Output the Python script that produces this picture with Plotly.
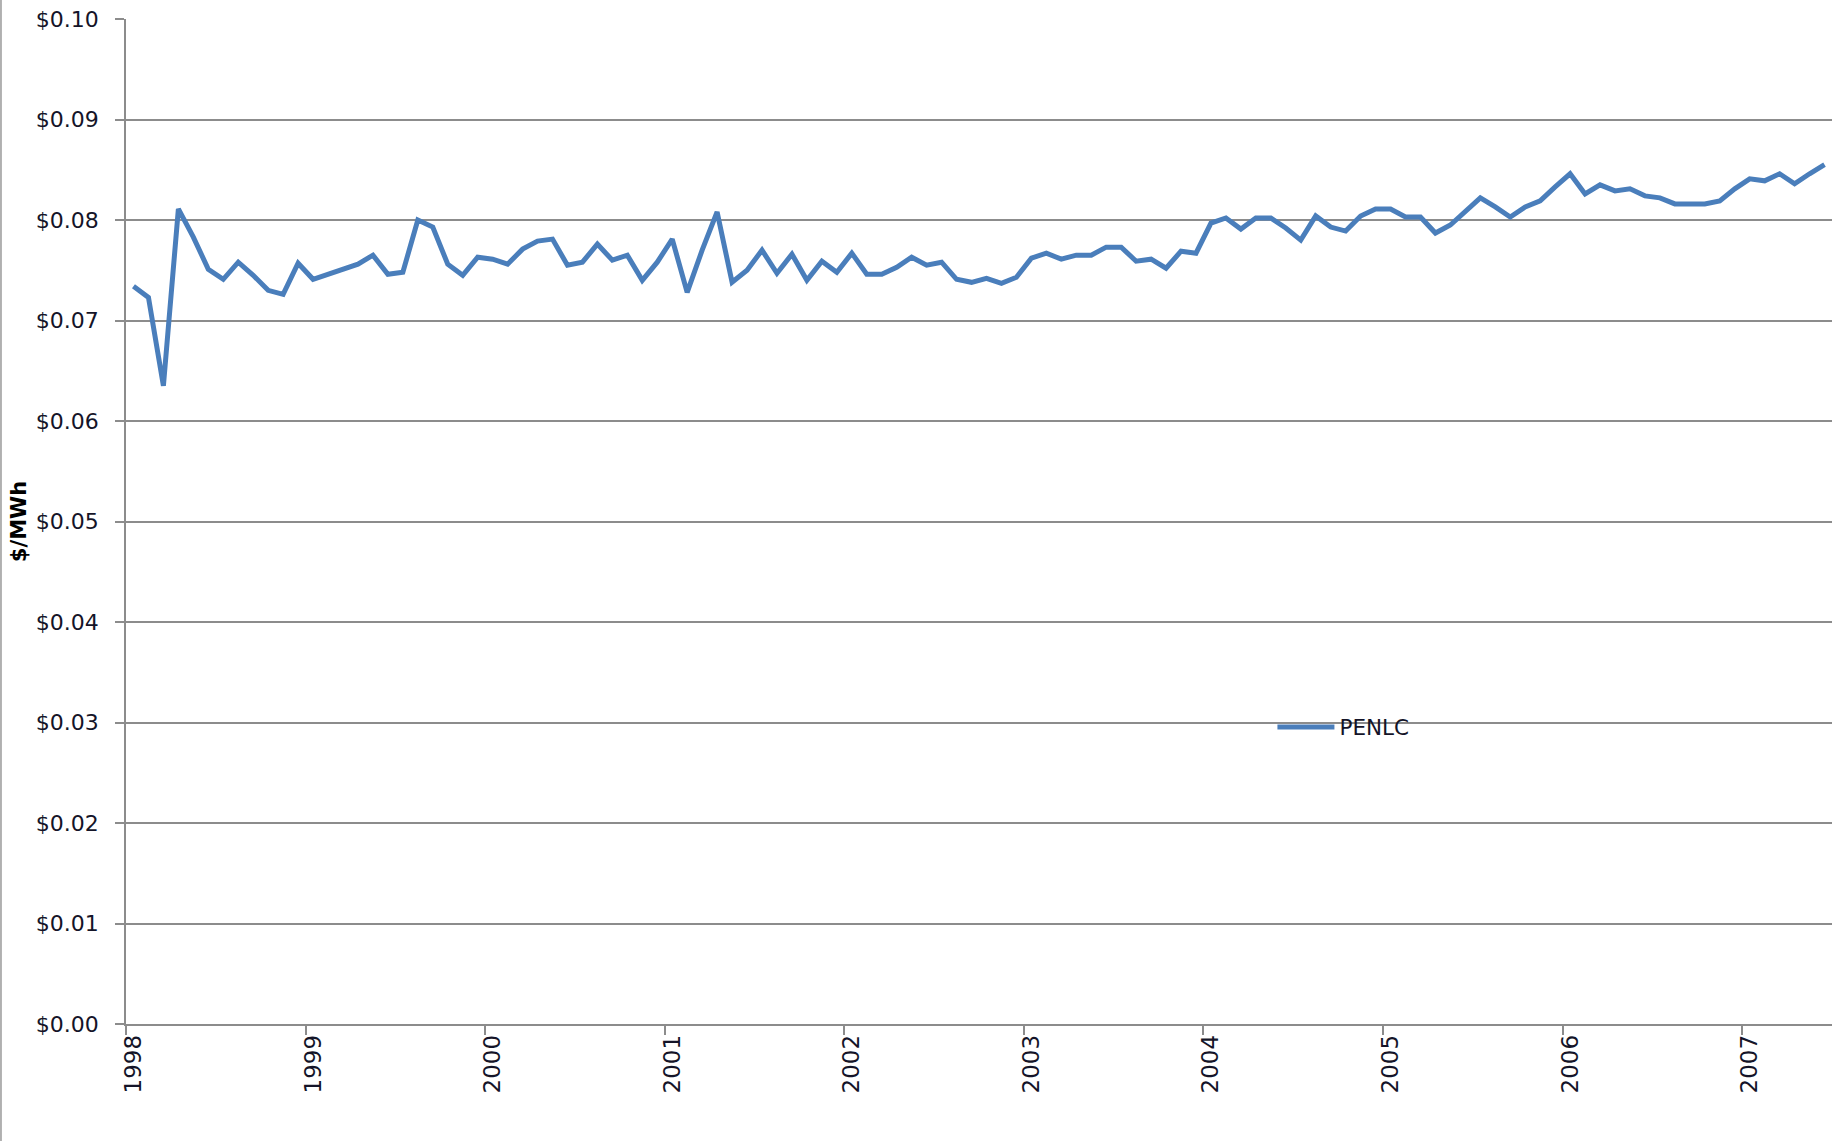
import plotly.graph_objects as go

# Monthly values, Jan 1998 - Jun 2007 ($/MWh as labelled)
values = [
    0.0734, 0.0723, 0.0635, 0.0811, 0.0783, 0.0751, 0.0741, 0.0758, 0.0745, 0.0730, 0.0726, 0.0757,
    0.0741, 0.0746, 0.0751, 0.0756, 0.0765, 0.0746, 0.0748, 0.0800, 0.0793, 0.0756, 0.0745, 0.0763,
    0.0761, 0.0756, 0.0771, 0.0779, 0.0781, 0.0755, 0.0758, 0.0776, 0.0760, 0.0765, 0.0740, 0.0758,
    0.0781, 0.0728, 0.0770, 0.0808, 0.0738, 0.0750, 0.0770, 0.0747, 0.0766, 0.0740, 0.0759, 0.0748,
    0.0767, 0.0746, 0.0746, 0.0753, 0.0763, 0.0755, 0.0758, 0.0741, 0.0738, 0.0742, 0.0737, 0.0743,
    0.0762, 0.0767, 0.0761, 0.0765, 0.0765, 0.0773, 0.0773, 0.0759, 0.0761, 0.0752, 0.0769, 0.0767,
    0.0797, 0.0802, 0.0791, 0.0802, 0.0802, 0.0792, 0.0780, 0.0804, 0.0793, 0.0789, 0.0804, 0.0811,
    0.0811, 0.0803, 0.0803, 0.0787, 0.0795, 0.0809, 0.0822, 0.0813, 0.0803, 0.0813, 0.0819, 0.0833,
    0.0846, 0.0826, 0.0835, 0.0829, 0.0831, 0.0824, 0.0822, 0.0816, 0.0816, 0.0816, 0.0819, 0.0831,
    0.0841, 0.0839, 0.0846, 0.0836, 0.0846, 0.0855,
]
years = ["1998", "1999", "2000", "2001", "2002", "2003", "2004", "2005", "2006", "2007"]
series_name = "PENLC"
y_title = "$/MWh"

x_idx = list(range(len(values)))
year_pos = [12 * i for i in range(len(years))]
boundary_pos = [p - 0.5 for p in year_pos]

FONT = "DejaVu Sans, Verdana, sans-serif"
TXT = "#141428"
GRID = "#8c8c8c"

fig = go.Figure()
fig.add_trace(go.Scatter(
    x=x_idx, y=values, mode="lines", name=series_name,
    line=dict(color="#4A7EBB", width=5),
))

fig.update_layout(
    width=1847, height=1141,
    margin=dict(l=126, r=15, t=19, b=117),
    paper_bgcolor="white", plot_bgcolor="white",
    font=dict(family=FONT, size=21, color=TXT),
    showlegend=True,
    legend=dict(x=0.672, y=0.2955, xanchor="left", yanchor="middle",
                bgcolor="rgba(0,0,0,0)", borderwidth=0, itemwidth=57,
                font=dict(family=FONT, size=21.5, color=TXT)),
    shapes=[dict(type="line", xref="paper", yref="paper",
                 x0=-0.0733, x1=-0.0733, y0=-0.12, y1=1.03,
                 line=dict(color="#b0b0b0", width=2))],
)

fig.update_xaxes(
    range=[-0.5, len(values) - 0.5], automargin=False,
    tickmode="array", tickvals=year_pos, ticktext=years,
    ticks="", tickangle=-90,
    tickfont=dict(family=FONT, size=23, color=TXT),
    showgrid=False, zeroline=False,
    showline=True, linecolor=GRID, linewidth=1.5,
    minor=dict(tickmode="array", tickvals=boundary_pos, ticks="outside",
               ticklen=9, tickwidth=1.5, tickcolor=GRID, showgrid=False),
)

fig.update_yaxes(
    range=[0, 0.1], tickmode="linear", tick0=0, dtick=0.01, automargin=False,
    tickformat="$.2f",
    ticks="outside", ticklen=9, tickwidth=1.5, tickcolor=GRID,
    ticklabelstandoff=12,
    tickfont=dict(family=FONT, size=22, color=TXT),
    showgrid=True, gridcolor=GRID, gridwidth=1.5,
    zeroline=False, showline=True, linecolor=GRID, linewidth=1.5,
    title=dict(text="<b>" + y_title + "</b>", standoff=4,
               font=dict(family=FONT, size=21, color="#000000")),
)

fig.write_html("out.html",
               config={"displayModeBar": False},
               post_script="document.body.style.margin='0';document.body.style.padding='0';")
